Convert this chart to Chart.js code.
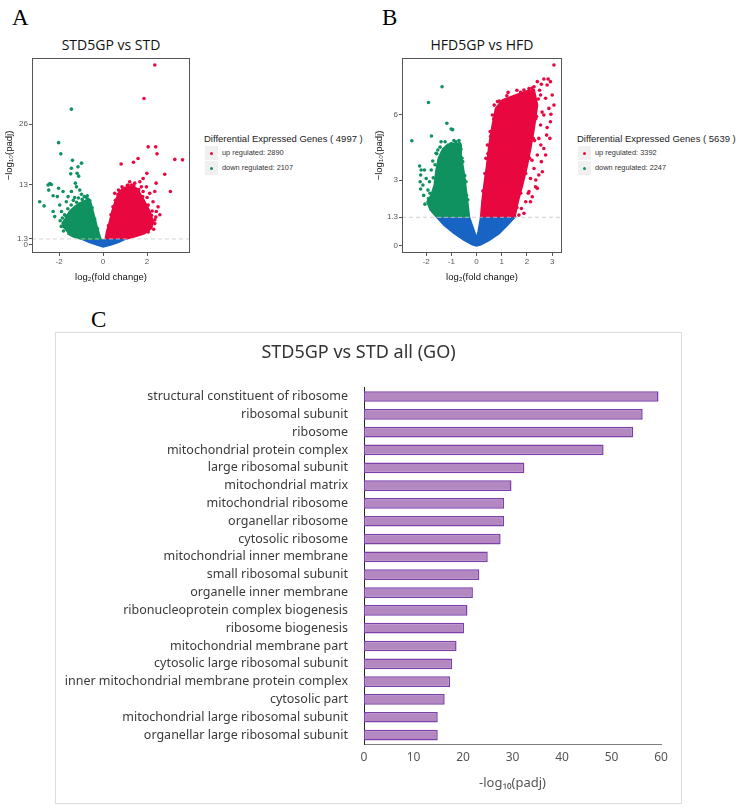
<!DOCTYPE html>
<html lang="en">
<head>
<meta charset="UTF-8">
<title>Volcano plots and GO enrichment</title>
<script src="https://cdn.jsdelivr.net/npm/chart.js"></script>
<style>
    body { margin: 0; background: #fff; width: 738px; height: 809px; position: relative; overflow: hidden; font-family: "Liberation Sans", Arial, sans-serif; }
    .abs { position: absolute; }
    .letter { font-family: "Liberation Serif", "DejaVu Serif", serif; font-size: 23px; color: #000; line-height: 1; }
    .vtitle { font-family: "Open Sans", "Noto Sans", sans-serif; font-size: 14px; color: #111; width: 160px; text-align: center; line-height: 1; }
    .leg { color: #222; }
    .leg .lt { font-size: 9.5px; line-height: 12px; white-space: nowrap; }
    .leg .li { font-size: 7.4px; line-height: 14px; height: 14px; margin-top: 1px; white-space: nowrap; display: flex; align-items: center; color: #333; }
    .leg .key { width: 13px; height: 14px; background: #f0f0f0; display: inline-flex; align-items: center; justify-content: center; margin-right: 4px; margin-left: 1px; }
    .leg .key i { width: 3px; height: 3px; border-radius: 50%; display: block; }
    #boxC { left: 55px; top: 332px; width: 625px; height: 470px; border: 1px solid #dcdcdc; }
</style>
</head>
<body>
<div class="abs letter" style="left:12px;top:6px">A</div>
<div class="abs letter" style="left:382px;top:6px">B</div>
<div class="abs letter" style="left:91px;top:308px">C</div>

<div class="abs vtitle" style="left:31px;top:38px">STD5GP vs STD</div>
<div class="abs vtitle" style="left:402px;top:38px">HFD5GP vs HFD</div>

<canvas id="volA" class="abs" width="196" height="240" style="left:0;top:50px"></canvas>
<canvas id="volB" class="abs" width="196" height="240" style="left:370px;top:50px"></canvas>

<div id="legA" class="abs leg" style="left:204px;top:133px"></div>
<div id="legB" class="abs leg" style="left:577px;top:133px"></div>

<div id="boxC" class="abs">
    <canvas id="goChart" width="625" height="470"></canvas>
</div>

<script>
    // ---- volcano A : STD5GP vs STD ----
    const aXTicks = [-2, 0, 2];
    const aYTicks = [0, 1.3, 13, 26];
    const aCounts = [4997, 2890, 2107]; // total, up, down

    // dense clouds (outline)
    const aBlueCloud = [[-0.98, 1.3], [-0.61, 0.57], [-0.23, 0.0], [0, -0.36], [0.3, 0.0], [0.68, 0.57], [1.02, 1.3]];
    const aGreenCloud = [[-1.79, 3.6], [-1.85, 4.7], [-1.71, 5.7], [-1.52, 7.2], [-1.29, 8.2], [-1.06, 9.0], [-0.83, 9.5],
        [-0.65, 9.9], [-0.56, 9.0], [-0.44, 6.8], [-0.30, 4.3], [-0.17, 2.2], [-0.11, 1.3], [-0.98, 1.3], [-1.36, 1.8], [-1.62, 2.5]];
    const aRedCloud = [[0.11, 1.3], [0.17, 2.9], [0.30, 5.0], [0.41, 7.2], [0.50, 8.6], [0.61, 10.0], [0.76, 11.5], [0.98, 12.3],
        [1.29, 12.5], [1.52, 12.2], [1.71, 10.8], [1.89, 9.3], [2.12, 7.2], [2.27, 5.0], [2.20, 3.6], [1.89, 2.5], [1.44, 1.8], [1.02, 1.3]];

    // single genes outside / on the edge of the clouds
    const aGreenPts = [[-1.44, 29.2], [-2.02, 22.0], [-1.92, 19.6], [-1.39, 18.2], [-0.98, 17.6], [-1.44, 16.5], [-1.14, 16.8],
        [-1.47, 15.3], [-1.18, 15.4], [-1.11, 14.8], [-2.42, 13.2], [-2.50, 12.9], [-2.35, 13.0], [-2.88, 9.3], [-2.68, 8.4],
        [-2.47, 11.8], [-2.27, 10.6], [-2.02, 12.2], [-1.82, 11.5], [-2.08, 10.4], [-1.26, 13.3], [-1.21, 12.5], [-1.06, 11.8],
        [-0.98, 10.9], [-1.44, 11.5], [-1.67, 9.3], [-1.97, 8.6], [-2.27, 7.2], [-2.20, 6.1], [-1.89, 7.2], [-1.59, 10.4],
        [-1.29, 10.2], [-1.75, 6.5], [-1.95, 5.2], [-1.35, 9.6], [-1.12, 10.1], [-0.85, 10.4], [-0.72, 10.6],
        [-1.70, 6.3], [-1.60, 7.8], [-1.45, 8.6], [-1.20, 9.2], [-0.95, 9.8], [-0.75, 10.2], [-0.60, 9.5], [-0.50, 8.0],
        [-1.85, 5.8], [-1.90, 4.0], [-1.80, 3.0], [-0.38, 5.6], [-0.25, 3.5]];
    const aRedPts = [[2.35, 38.7], [1.86, 31.5], [2.05, 21.1], [2.39, 21.1], [2.45, 19.6], [3.26, 18.4], [3.61, 18.3], [1.59, 18.6],
        [1.38, 17.8], [0.82, 17.4], [1.99, 15.4], [2.80, 15.2], [3.06, 11.5], [2.41, 13.3], [2.35, 11.5], [1.82, 14.3],
        [1.67, 13.6], [1.44, 13.3], [1.14, 12.9], [0.86, 12.5], [0.53, 11.1], [1.97, 12.5], [2.12, 11.1], [1.82, 11.5],
        [2.27, 9.3], [2.50, 8.2], [2.23, 7.3], [2.42, 7.2], [2.05, 8.6], [2.58, 6.5], [2.35, 5.4], [1.74, 12.5], [1.21, 13.6],
        [0.98, 11.5], [0.68, 10.8], [1.60, 11.6], [1.30, 12.9], [2.00, 10.2], [2.40, 6.0], [0.70, 11.8],
        [0.25, 4.2], [0.36, 6.5], [0.45, 8.2], [0.56, 9.6], [0.70, 10.9], [0.90, 12.0], [1.10, 12.8], [1.40, 12.7],
        [1.62, 11.9], [1.80, 10.4], [2.00, 8.5], [2.20, 6.4], [2.35, 4.6], [2.30, 3.4], [2.05, 2.8]];

    // ---- volcano B : HFD5GP vs HFD ----
    const bXTicks = [-2, -1, 0, 1, 2, 3];
    const bYTicks = [0, 1.3, 3, 6];
    const bCounts = [5639, 3392, 2247];

    const bBlueCloud = [[-1.57, 1.3], [-1.28, 0.94], [-0.88, 0.56], [-0.49, 0.26], [-0.16, 0.06], [0, 0], [0.17, 0.06],
        [0.50, 0.26], [0.89, 0.56], [1.22, 0.94], [1.51, 1.3], [0.17, 1.3], [0.07, 0.64], [0, 0.33], [-0.09, 0.64], [-0.29, 1.3]];
    const bGreenCloud = [[-1.57, 1.3], [-1.83, 1.63], [-1.96, 2.01], [-1.80, 2.31], [-1.67, 2.77], [-1.61, 3.38], [-1.51, 3.99],
        [-1.34, 4.41], [-1.14, 4.63], [-0.88, 4.67], [-0.64, 4.63], [-0.62, 4.14], [-0.51, 3.38], [-0.41, 2.47], [-0.29, 1.3]];
    const bRedCloud = [[0.17, 1.3], [0.22, 2.01], [0.30, 2.77], [0.41, 3.68], [0.50, 4.60], [0.63, 5.51], [0.76, 6.27],
        [1.03, 6.65], [1.49, 6.85], [2.01, 7.06], [2.28, 7.11], [2.41, 6.42], [2.28, 5.36], [2.14, 4.44], [2.01, 3.68],
        [1.82, 2.77], [1.64, 2.01], [1.51, 1.3]];

    const bGreenPts = [[-1.37, 7.26], [-1.91, 6.54], [-2.57, 4.79], [-1.79, 5.01], [-1.18, 5.59], [-1.01, 5.33], [-0.95, 5.30],
        [-2.26, 3.64], [-2.20, 3.46], [-2.22, 3.23], [-2.07, 3.46], [-2.00, 3.07], [-2.24, 2.92], [-2.13, 2.77], [-1.87, 2.92],
        [-1.80, 3.46], [-1.93, 2.54], [-2.22, 2.59], [-1.74, 3.87], [-1.61, 4.22], [-1.54, 4.37], [-0.68, 4.67], [-0.62, 4.40],
        [-1.41, 4.75], [-1.01, 4.67], [-0.82, 4.75], [-0.55, 3.84], [-0.42, 2.92], [-1.80, 1.78], [-1.91, 2.16], [-1.70, 2.47],
        [-1.25, 4.75], [-0.90, 4.80], [-2.05, 1.90], [-2.10, 2.30], [-0.47, 3.20], [-0.35, 2.10],
        [-1.70, 2.00], [-1.85, 2.40], [-1.72, 3.10], [-1.65, 3.70], [-1.58, 4.20], [-1.45, 4.50], [-0.70, 4.80], [-0.58, 4.00],
        [-0.48, 3.00], [-0.40, 2.30]];
    const bRedPts = [[2.54, 6.88], [2.74, 6.73], [2.87, 6.27], [2.67, 5.97], [2.93, 5.66], [2.54, 5.51], [2.78, 5.05], [2.47, 4.90],
        [2.67, 4.44], [2.41, 4.14], [2.57, 3.84], [2.28, 3.53], [2.47, 3.23], [2.14, 3.07], [2.34, 2.69], [2.08, 2.47],
        [1.95, 2.01], [2.14, 2.01], [1.78, 1.70], [1.88, 1.48], [1.68, 1.40], [2.80, 7.34], [3.00, 6.88], [3.07, 6.42],
        [2.91, 4.90], [2.74, 4.14], [2.61, 3.38], [2.41, 2.62], [2.21, 2.24], [3.07, 8.25], [2.67, 7.61], [2.84, 7.61],
        [2.57, 7.37], [2.41, 7.49], [2.93, 7.49], [2.28, 7.26], [2.08, 7.18], [1.88, 7.11], [0.70, 6.42], [0.83, 6.58],
        [0.63, 5.97], [0.54, 5.21], [0.43, 4.60], [0.37, 3.99], [2.60, 6.10], [2.35, 5.80], [2.55, 4.60], [2.30, 4.80],
        [2.20, 3.90], [2.35, 3.00], [2.05, 2.40], [2.80, 5.40], [2.95, 6.00], [1.25, 7.00], [1.60, 7.10], [2.50, 7.10],
        [0.25, 2.50], [0.33, 3.30], [0.45, 4.20], [0.56, 5.00], [0.68, 5.80], [0.90, 6.60], [1.20, 6.85], [1.75, 7.00],
        [2.20, 7.20], [2.45, 6.70], [2.38, 5.90], [2.25, 4.90], [2.10, 4.00], [1.95, 3.30], [1.75, 2.40], [1.60, 1.75]];

    // ---- GO enrichment (panel C) ----
    const goTerms = ['structural constituent of ribosome', 'ribosomal subunit', 'ribosome', 'mitochondrial protein complex',
        'large ribosomal subunit', 'mitochondrial matrix', 'mitochondrial ribosome', 'organellar ribosome', 'cytosolic ribosome',
        'mitochondrial inner membrane', 'small ribosomal subunit', 'organelle inner membrane',
        'ribonucleoprotein complex biogenesis', 'ribosome biogenesis', 'mitochondrial membrane part',
        'cytosolic large ribosomal subunit', 'inner mitochondrial membrane protein complex', 'cytosolic part',
        'mitochondrial large ribosomal subunit', 'organellar large ribosomal subunit'];
    const goValues = [59.5, 56.3, 54.4, 48.4, 32.4, 29.8, 28.3, 28.3, 27.6, 25.0, 23.3, 22.0, 20.9, 20.2, 18.7, 17.8, 17.4, 16.3, 14.9, 14.9];

    const RED = '#e8073f', GREEN = '#0f925f', BLUE = '#1864c4';

    const pts = arr => arr.map(([x, y]) => ({ x, y }));

    // box round the plotting area, ggplot style
    const frame = {
        id: 'frame',
        afterDraw(chart) {
            const a = chart.chartArea, g = chart.ctx;
            g.save();
            g.strokeStyle = '#555';
            g.lineWidth = 1;
            g.strokeRect(Math.round(a.left) + 0.5, Math.round(a.top) + 0.5, Math.round(a.width) - 1, Math.round(a.height) - 1);
            g.restore();
        }
    };

    function volcano(id, cfg) {
        const cloud = (data, color) => ({ data: pts(data), showLine: true, fill: 'shape', backgroundColor: color,
            borderColor: color, borderWidth: 2, pointRadius: 0 });
        const dots = (data, color) => ({ data: pts(data), backgroundColor: color, borderWidth: 0, pointRadius: 1.8 });
        return new Chart(document.getElementById(id), {
            type: 'scatter',
            data: {
                datasets: [
                    { data: [{ x: cfg.x[0], y: 1.3 }, { x: cfg.x[1], y: 1.3 }], showLine: true, borderColor: '#c8c8c8',
                      borderWidth: 0.8, borderDash: [4, 3], pointRadius: 0 },
                    dots(cfg.redPts, RED),
                    dots(cfg.greenPts, GREEN),
                    cloud(cfg.red, RED),
                    cloud(cfg.green, GREEN),
                    cloud(cfg.blue, BLUE)
                ]
            },
            options: {
                responsive: false,
                animation: false,
                layout: { padding: { top: 8, right: cfg.padRight, left: 0, bottom: 0 } },
                plugins: { legend: { display: false }, tooltip: { enabled: false } },
                scales: {
                    x: {
                        type: 'linear', min: cfg.x[0], max: cfg.x[1],
                        afterBuildTicks: s => { s.ticks = cfg.xTicks.map(v => ({ value: v })); },
                        afterFit: s => { s.height = 37; },
                        grid: { display: true, drawOnChartArea: false, tickLength: 3, color: '#555' },
                        border: { display: false },
                        ticks: { font: { size: 8 }, color: '#555', padding: 1, callback: v => String(v) },
                        title: { display: true, text: 'log₂(fold change)', font: { size: 9.5 }, color: '#111', padding: { top: 1, bottom: 7 } }
                    },
                    y: {
                        type: 'linear', min: cfg.y[0], max: cfg.y[1],
                        afterBuildTicks: s => { s.ticks = cfg.yTicks.map(v => ({ value: v })); },
                        afterFit: s => { s.width = 32; },
                        grid: { display: true, drawOnChartArea: false, tickLength: 3, color: '#555' },
                        border: { display: false },
                        ticks: { font: { size: 8 }, color: '#555', padding: 1, callback: v => String(v) },
                        title: { display: true, text: '−log₁₀(padj)', font: { size: 9.5 }, color: '#111', padding: { top: 4, bottom: 0 } }
                    }
                }
            },
            plugins: [frame]
        });
    }

    volcano('volA', { x: [-3.23, 3.95], y: [-1.72, 40.2], xTicks: aXTicks, yTicks: aYTicks, padRight: 6,
        blue: aBlueCloud, green: aGreenCloud, red: aRedCloud, greenPts: aGreenPts, redPts: aRedPts });
    volcano('volB', { x: [-2.96, 3.39], y: [-0.33, 8.57], xTicks: bXTicks, yTicks: bYTicks, padRight: 3,
        blue: bBlueCloud, green: bGreenCloud, red: bRedCloud, greenPts: bGreenPts, redPts: bRedPts });

    function legend(id, counts) {
        document.getElementById(id).innerHTML =
            '<div class="lt">Differential Expressed Genes ( ' + counts[0] + ' )</div>' +
            '<div class="li"><span class="key"><i style="background:' + RED + '"></i></span>up regulated: ' + counts[1] + '</div>' +
            '<div class="li"><span class="key"><i style="background:' + GREEN + '"></i></span>down regulated: ' + counts[2] + '</div>';
    }
    legend('legA', aCounts);
    legend('legB', bCounts);

    new Chart(document.getElementById('goChart'), {
        type: 'bar',
        data: {
            labels: goTerms,
            datasets: [{
                data: goValues,
                backgroundColor: '#b387bf',
                borderColor: '#7c40aa',
                borderWidth: 1.5,
                borderSkipped: false,
                barPercentage: 0.6,
                categoryPercentage: 1
            }]
        },
        options: {
            indexAxis: 'y',
            responsive: false,
            animation: false,
            layout: { padding: { top: 0, right: 20, left: 0, bottom: 0 } },
            plugins: {
                legend: { display: false },
                tooltip: { enabled: false },
                title: {
                    display: true, text: 'STD5GP vs STD all (GO)', color: '#333',
                    font: { family: 'Noto Sans', size: 18, weight: 'normal' },
                    padding: { top: 9, bottom: 24 }
                }
            },
            scales: {
                x: {
                    min: 0, max: 60,
                    ticks: { stepSize: 10, color: '#555', font: { family: 'Noto Sans', size: 12 }, padding: 6 },
                    grid: { display: false, drawTicks: false },
                    border: { color: '#7f7f7f' },
                    afterFit: s => { s.height = 59; },
                    title: { display: true, text: '-log₁₀(padj)', color: '#555', font: { family: 'Noto Sans', size: 13 }, padding: { top: 2, bottom: 12 } }
                },
                y: {
                    ticks: { color: '#3a3a3a', font: { family: 'Noto Sans', size: 12.5 }, padding: 8, autoSkip: false },
                    grid: { display: false },
                    border: { color: '#222' },
                    afterFit: s => { s.width = 308; }
                }
            }
        }
    });
</script>
</body>
</html>
